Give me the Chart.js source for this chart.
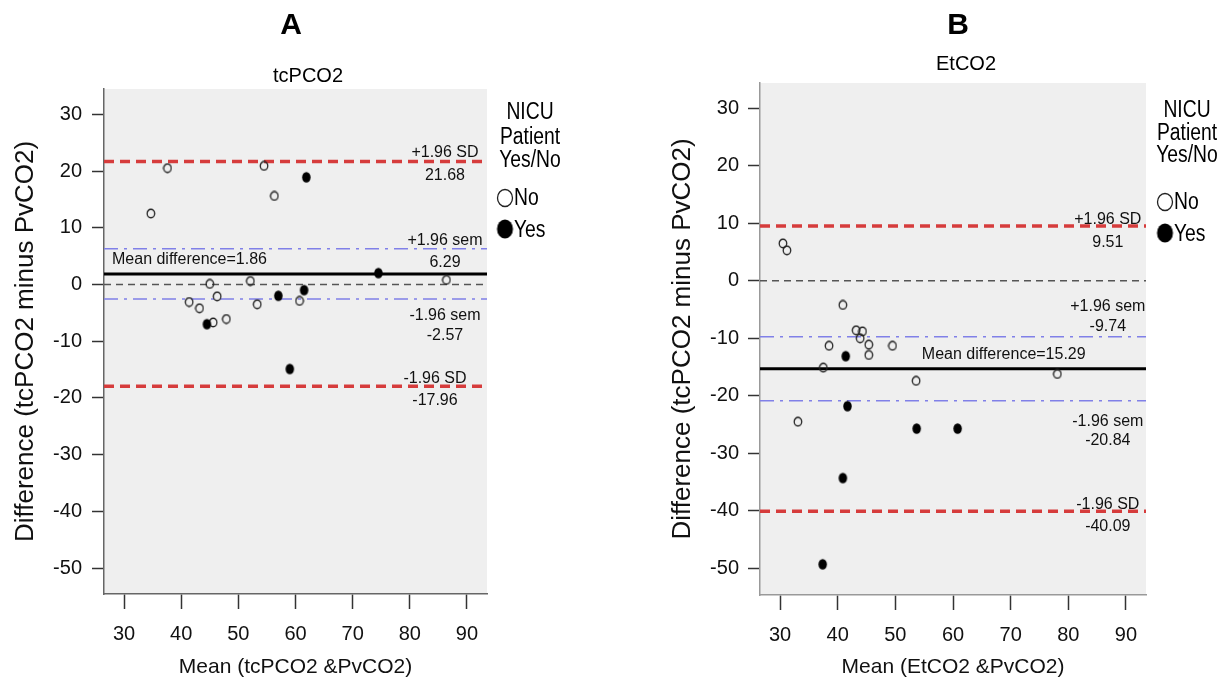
<!DOCTYPE html>
<html><head><meta charset="utf-8">
<script src="https://cdn.jsdelivr.net/npm/chart.js@4.4.0/dist/chart.umd.min.js"></script>
<style>
html,body{margin:0;padding:0;background:#fff;width:1218px;height:685px;overflow:hidden}
canvas{position:absolute;top:0}
#cA{left:0}
#cB{left:609px}
</style></head><body>
<canvas id="cA" width="609" height="685"></canvas>
<canvas id="cB" width="609" height="685"></canvas>
<script>
// ---------- data ----------
const xTicks = [30, 40, 50, 60, 70, 80, 90];
const yTicks = [-50, -40, -30, -20, -10, 0, 10, 20, 30];

// Panel A: tcPCO2 vs PvCO2
const aNoMean  = [34.7, 37.6, 54.5, 56.3, 86.4, 45.0, 52.1, 41.4, 43.2, 46.3, 53.3, 60.7, 45.6, 47.9];
const aNoDiff  = [12.5, 20.5, 20.9, 15.6, 0.8, 0.1, 0.6, -3.1, -4.2, -2.1, -3.5, -2.9, -6.7, -6.1];
const aYesMean = [61.9, 74.5, 57.0, 61.5, 44.5, 59.0];
const aYesDiff = [18.9, 2.0, -2.0, -1.0, -7.0, -14.9];
const aLimits  = {sdUpper: 21.68, semUpper: 6.29, mean: 1.86, semLower: -2.57, sdLower: -17.96};

// Panel B: EtCO2 vs PvCO2
const bNoMean  = [30.5, 31.2, 40.9, 43.2, 44.3, 43.9, 38.5, 45.4, 49.5, 45.4, 37.5, 78.1, 53.6, 33.1];
const bNoDiff  = [6.5, 5.3, -4.2, -8.6, -8.8, -10.0, -11.3, -11.1, -11.3, -12.9, -15.1, -16.2, -17.4, -24.5];
const bYesMean = [41.4, 41.7, 53.7, 60.8, 40.9, 37.4];
const bYesDiff = [-13.1, -21.8, -25.7, -25.7, -34.3, -49.3];
const bLimits  = {sdUpper: 9.51, semUpper: -9.74, mean: -15.29, semLower: -20.84, sdLower: -40.09};

const legendTitle = ['NICU', 'Patient', 'Yes/No'];
const legendItems = ['No', 'Yes'];

// ---------- styling ----------
const FONT = '"Liberation Sans", Arial, Helvetica, sans-serif';

function ellipseImg(w, h, filled) {
  const c = document.createElement('canvas');
  c.width = w + 3; c.height = h + 3;
  const g = c.getContext('2d');
  g.beginPath();
  g.ellipse(c.width / 2, c.height / 2, w / 2, h / 2, 0, 0, Math.PI * 2);
  if (filled) { g.fillStyle = '#000'; g.fill(); }
  else { g.lineWidth = 1.3; g.strokeStyle = '#222'; g.stroke(); }
  return c;
}
const openPt = ellipseImg(7.5, 8.5, false);
const fillPt = ellipseImg(8.5, 10.5, true);

function zip(xs, ys) { return xs.map((x, i) => ({x: x, y: ys[i]})); }

function narrowText(ctx, text, x, y, align) {
  ctx.save();
  ctx.translate(x, y);
  ctx.scale(0.84, 1);
  ctx.textAlign = align;
  ctx.fillText(text, 0, 0);
  ctx.restore();
}

const decoPlugin = {
  id: 'deco',
  beforeDraw(chart, args, o) {
    const {ctx, chartArea: a} = chart;
    ctx.save();
    ctx.fillStyle = '#efefef';
    ctx.fillRect(a.left, a.top, a.right - a.left, a.bottom - a.top);
    ctx.restore();
  },
  afterDraw(chart, args, o) {
    const ctx = chart.ctx, xs = chart.scales.x, ys = chart.scales.y;
    ctx.save();
    ctx.fillStyle = '#000';
    ctx.textBaseline = 'middle';
    ctx.textAlign = 'center';
    ctx.font = 'bold 30px ' + FONT;
    ctx.fillText(o.letter, o.letterPos[0], o.letterPos[1]);
    ctx.font = '20px ' + FONT;
    ctx.fillText(o.subtitle, o.subPos[0], o.subPos[1]);
    // line labels
    ctx.font = '16px ' + FONT;
    ctx.fillStyle = '#111';
    o.labels.forEach(l => {
      ctx.textAlign = l.align || 'center';
      ctx.fillText(l.text, xs.getPixelForValue(l.x), ys.getPixelForValue(l.v) + l.dy);
    });
    // legend
    const L = o.legend;
    ctx.fillStyle = '#000';
    ctx.font = '23px ' + FONT;
    legendTitle.forEach((t, i) => narrowText(ctx, t, L.cx, L.titleY[i], 'center'));
    ctx.drawImage(L.openImg, L.markX - L.openImg.width / 2, L.itemY[0] - L.openImg.height / 2);
    ctx.drawImage(L.fillImg, L.markX - L.fillImg.width / 2, L.itemY[1] - L.fillImg.height / 2);
    narrowText(ctx, legendItems[0], L.textX, L.itemY[0] + 1, 'left');
    narrowText(ctx, legendItems[1], L.textX, L.itemY[1] + 2, 'left');
    ctx.restore();
  }
};

const legOpen = ellipseImg(15, 17, false);
const legFill = ellipseImg(16, 19, true);

function makePanel(P) {
  const lim = P.limits;
  const xr = P.xRange;
  const hline = (v, color, width, dash, order) => ({
    data: [{x: xr[0], y: v}, {x: xr[1], y: v}],
    showLine: true, borderColor: color, borderWidth: width, borderDash: dash,
    pointRadius: 0, order: order, clip: false
  });
  new Chart(document.getElementById(P.canvas), {
    type: 'scatter',
    data: {
      datasets: [
        {data: zip(P.noX, P.noY), pointStyle: openPt, pointRadius: 4, order: 1},
        {data: zip(P.yesX, P.yesY), pointStyle: fillPt, pointRadius: 5, order: 0},
        hline(lim.mean, '#000', 3, [], 2),
        hline(0, '#555', 1.5, [7, 5], 3),
        hline(lim.semUpper, '#8080e8', 1.5, [14, 6, 3, 6], 4),
        hline(lim.semLower, '#8080e8', 1.5, [14, 6, 3, 6], 4),
        hline(lim.sdUpper, '#d63c3c', 3.5, [10, 6], 5),
        hline(lim.sdLower, '#d63c3c', 3.5, [10, 6], 5)
      ]
    },
    options: {
      responsive: false, animation: false, events: [],
      layout: {padding: {left: 0, right: P.padRight, top: P.top, bottom: 0}},
      plugins: {
        legend: {display: false}, tooltip: {enabled: false},
        deco: P.deco
      },
      scales: {
        x: {
          type: 'linear', min: xr[0], max: xr[1],
          afterBuildTicks: s => { s.ticks = xTicks.map(v => ({value: v})); },
          afterFit: s => { s.height = P.xAxisH; },
          grid: {drawOnChartArea: false, drawTicks: true, tickLength: 15, tickWidth: 1.5, tickColor: '#333'},
          border: {color: P.axisColor, width: 1.5},
          ticks: {font: {size: 20, family: FONT}, color: '#111', padding: 13, maxRotation: 0, autoSkip: false},
          title: {display: true, text: P.xTitle, font: {size: 21, family: FONT}, color: '#111', padding: {top: 0, bottom: 5}}
        },
        y: {
          type: 'linear', min: P.yRange[0], max: P.yRange[1],
          afterBuildTicks: s => { s.ticks = yTicks.map(v => ({value: v})); },
          afterFit: s => { s.width = P.yAxisW; },
          grid: {drawOnChartArea: false, drawTicks: true, tickLength: 12, tickWidth: 1.5, tickColor: '#333'},
          border: {color: P.axisColor, width: 1.5},
          ticks: {font: {size: 20, family: FONT}, color: '#111', padding: P.yTickPad, autoSkip: false},
          title: {display: true, text: P.yTitle, font: {size: 26, family: FONT}, color: '#111', padding: {top: P.yTitlePad, bottom: 0}}
        }
      }
    },
    plugins: [decoPlugin]
  });
}

makePanel({
  canvas: 'cA', limits: aLimits,
  noX: aNoMean, noY: aNoDiff, yesX: aYesMean, yesY: aYesDiff,
  xRange: [26.5, 93.5], yRange: [-54.58, 34.46],
  padRight: 122, top: 89, xAxisH: 91, yAxisW: 104, yTickPad: 10, yTitlePad: 10,
  axisColor: '#666',
  xTitle: 'Mean (tcPCO2 &PvCO2)', yTitle: 'Difference (tcPCO2 minus PvCO2)',
  deco: {
    letter: 'A', letterPos: [291, 26], subtitle: 'tcPCO2', subPos: [308, 76],
    labels: [
      {text: '+1.96 SD', x: 86.15, v: aLimits.sdUpper, dy: -9},
      {text: '21.68', x: 86.15, v: aLimits.sdUpper, dy: 14},
      {text: '+1.96 sem', x: 86.15, v: aLimits.semUpper, dy: -8},
      {text: '6.29', x: 86.15, v: aLimits.semUpper, dy: 14},
      {text: 'Mean difference=1.86', x: 27.9, v: aLimits.mean, dy: -14, align: 'left'},
      {text: '-1.96 sem', x: 86.15, v: aLimits.semLower, dy: 17},
      {text: '-2.57', x: 86.15, v: aLimits.semLower, dy: 37},
      {text: '-1.96 SD', x: 84.4, v: aLimits.sdLower, dy: -8},
      {text: '-17.96', x: 84.4, v: aLimits.sdLower, dy: 14}
    ],
    legend: {cx: 530, titleY: [113, 138, 161], itemY: [198, 229], markX: 505, textX: 514, openImg: legOpen, fillImg: legFill}
  }
});

makePanel({
  canvas: 'cB', limits: bLimits,
  noX: bNoMean, noY: bNoDiff, yesX: bYesMean, yesY: bYesDiff,
  xRange: [26.53, 93.47], yRange: [-54.64, 34.4],
  padRight: 72, top: 83, xAxisH: 90, yAxisW: 151, yTickPad: 9, yTitlePad: 58,
  axisColor: '#999',
  xTitle: 'Mean (EtCO2 &PvCO2)', yTitle: 'Difference (tcPCO2 minus PvCO2)',
  deco: {
    letter: 'B', letterPos: [349, 26], subtitle: 'EtCO2', subPos: [357, 64],
    labels: [
      {text: '+1.96 SD', x: 86.85, v: bLimits.sdUpper, dy: -7},
      {text: '9.51', x: 86.85, v: bLimits.sdUpper, dy: 16},
      {text: '+1.96 sem', x: 86.85, v: bLimits.semUpper, dy: -30},
      {text: '-9.74', x: 86.85, v: bLimits.semUpper, dy: -10},
      {text: 'Mean difference=15.29', x: 68.8, v: bLimits.mean, dy: -14},
      {text: '-1.96 sem', x: 86.85, v: bLimits.semLower, dy: 21},
      {text: '-20.84', x: 86.85, v: bLimits.semLower, dy: 40},
      {text: '-1.96 SD', x: 86.85, v: bLimits.sdLower, dy: -7},
      {text: '-40.09', x: 86.85, v: bLimits.sdLower, dy: 15}
    ],
    legend: {cx: 578, titleY: [111, 134, 156], itemY: [202, 233], markX: 556, textX: 565, openImg: legOpen, fillImg: legFill}
  }
});
</script>
</body></html>
